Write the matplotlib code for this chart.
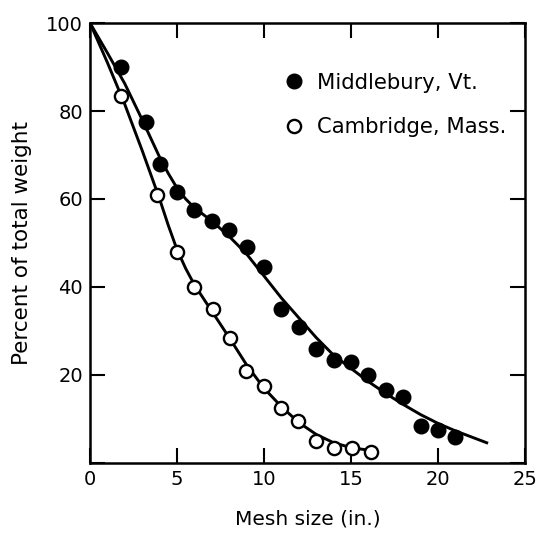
import matplotlib
matplotlib.use('Agg')
import matplotlib.pyplot as plt
from matplotlib.lines import Line2D

plt.rcParams['font.family'] = ['DejaVu Sans']

# Middlebury, Vt. (filled dots)
midd_x = [1.8, 3.2, 4.0, 5.0, 6.0, 7.0, 8.0, 9.0, 10.0, 11.0, 12.0, 13.0, 14.0, 15.0, 16.0, 17.0, 18.0, 19.0, 20.0, 21.0]
midd_y = [90, 77.5, 68, 61.5, 57.5, 55, 53, 49, 44.5, 35, 31, 26, 23.5, 23, 20, 16.5, 15, 8.5, 7.5, 6]

# Cambridge, Mass. (open dots)
camb_x = [1.8, 3.85, 5.0, 6.0, 7.05, 8.05, 8.95, 10.0, 11.0, 11.95, 13.0, 14.0, 15.05, 16.15]
camb_y = [83.5, 61, 48, 40, 35, 28.5, 21, 17.5, 12.5, 9.5, 5, 3.5, 3.5, 2.5]

# hand-drawn fitted curves
midd_curve_x = [0, 1, 2, 3, 4, 4.5, 5, 5.5, 6, 7, 8, 9, 10, 11, 12, 13, 14, 15, 16, 17, 18, 19, 20, 21, 22, 22.8]
midd_curve_y = [100, 93.2, 86.2, 78, 69.5, 65.8, 62.5, 60, 58, 55, 51.5, 47.5, 42.5, 37.5, 33, 28.5, 24.5,
                21.5, 18.5, 15.8, 13.3, 11, 9, 7.3, 5.8, 4.6]

camb_curve_x = [0, 1, 2, 3, 4, 4.5, 5, 5.5, 6, 7, 8, 9, 10, 11, 12, 13, 14, 15, 16.2]
camb_curve_y = [100, 91, 81.5, 71, 60, 54, 48.5, 44.2, 40.5, 34.5, 28.5, 22.3, 17, 12.8, 9.2, 6.5, 4.6, 3.5, 2.8]

x_ticks = [0, 5, 10, 15, 20, 25]
y_ticks = [0, 20, 40, 60, 80, 100]
y_ticklabels = ['', '20', '40', '60', '80', '100']

fig = plt.figure(figsize=(5.39, 5.35), dpi=100)
ax = fig.add_axes([0.167, 0.1346, 0.807, 0.8224])

ax.plot(midd_curve_x, midd_curve_y, color='black', linewidth=2.1, zorder=2)
ax.plot(camb_curve_x, camb_curve_y, color='black', linewidth=2.1, zorder=2)
ax.plot(midd_x, midd_y, 'o', color='black', markersize=10.5, zorder=3)
ax.plot(camb_x, camb_y, 'o', markerfacecolor='white', markeredgecolor='black',
        markeredgewidth=1.7, markersize=9.5, zorder=3)

ax.set_xlim(0, 25)
ax.set_ylim(0, 100)
ax.set_xticks(x_ticks)
ax.set_yticks(y_ticks)
ax.set_yticklabels(y_ticklabels)

ax.tick_params(direction='in', top=True, right=True, length=11, width=1.5,
               labelsize=14, color='black')
ax.tick_params(axis='x', pad=5)
ax.tick_params(axis='y', pad=5)
for spine in ax.spines.values():
    spine.set_linewidth(1.8)

ax.set_xlabel('Mesh size (in.)', fontsize=14.5, labelpad=15)
ax.set_ylabel('Percent of total weight', fontsize=15.5, labelpad=10)

handles = [
    Line2D([], [], marker='o', linestyle='none', color='black', markersize=10.5),
    Line2D([], [], marker='o', linestyle='none', markerfacecolor='white',
           markeredgecolor='black', markeredgewidth=1.7, markersize=9.5),
]
ax.legend(handles, ['Middlebury, Vt.', 'Cambridge, Mass.'], loc='upper left',
          bbox_to_anchor=(0.43, 0.906), frameon=False, fontsize=15.2,
          handlelength=0.8, handletextpad=0.7, labelspacing=1.16, borderaxespad=0)

fig.savefig('out.png', dpi=100)
